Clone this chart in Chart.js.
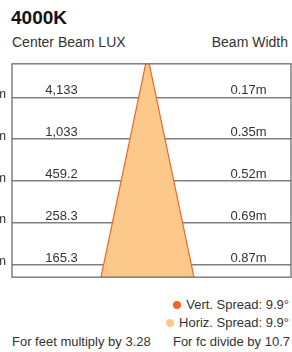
<!DOCTYPE html>
<html>
<head>
<meta charset="utf-8">
<script src="https://cdn.jsdelivr.net/npm/chart.js@4/dist/chart.umd.min.js"></script>
<style>
  html, body { margin: 0; padding: 0; background: #fff; }
  body { width: 292px; height: 352px; position: relative; overflow: hidden;
         font-family: 'Liberation Sans', Arial, sans-serif; color: #333; }
  .t { position: absolute; white-space: nowrap; }
  #title { left: 11px; top: 8px; font-size: 19px; line-height: 19px; font-weight: bold; color: #111; }
  #lux { left: 12px; top: 35px; font-size: 14px; line-height: 14px; }
  #bw { right: 4px; top: 35px; font-size: 14px; line-height: 14px; }
  #box { position: absolute; left: -30px; top: 50px; width: 322px; height: 241px; }
  #legend { position: absolute; right: 3px; top: 298px; font-size: 13px; line-height: 13px; text-align: right; }
  #legend div { height: 18px; }
  #legend i { display: inline-block; width: 8px; height: 8px; border-radius: 50%; margin-right: 5px; vertical-align: 0px; }
  #feet { left: 12px; top: 335px; font-size: 13px; line-height: 13px; }
  #fc { right: 2px; top: 335px; font-size: 13px; line-height: 13px; }
</style>
</head>
<body>
<div class="t" id="title">4000K</div>
<div class="t" id="lux">Center Beam LUX</div>
<div class="t" id="bw">Beam Width</div>
<div id="box"><canvas id="c"></canvas></div>
<div id="legend"></div>
<div class="t" id="feet">For feet multiply by 3.28</div>
<div class="t" id="fc">For fc divide by 10.7</div>
<script>
// distance rows (m)
var distances = [1, 2, 3, 4, 5];
var centerLux = [4133, 1033, 459.2, 258.3, 165.3];
var beamWidth = [0.17, 0.35, 0.52, 0.69, 0.87];

// beam outline: left corner, apex, right corner
var beamX = [-0.46, 0, 0.46];
var beamY = [5.3, 0, 5.3];

var spreadNames = ['Vert. Spread', 'Horiz. Spread'];
var spreadDeg = [9.9, 9.9];
var spreadColors = ['#f26522', '#fdc98a'];

var yMin = 0.2, yMax = 5.3, xMin = -1.34, xMax = 1.42;
var luxX = -0.85, widthX = 1.0;
var gridColor = 'rgba(95,95,95,0.8)';

Chart.defaults.font.family = "'Liberation Sans', Arial, sans-serif";
Chart.defaults.color = '#333';

var pts = beamX.map(function (x, i) { return { x: x, y: beamY[i] }; });

var rowLabels = {
  id: 'rowLabels',
  afterDraw: function (chart) {
    var ctx = chart.ctx, xs = chart.scales.x, ys = chart.scales.y;
    ctx.save();
    ctx.font = "13px 'Liberation Sans', Arial, sans-serif";
    ctx.fillStyle = '#333';
    ctx.textAlign = 'center';
    ctx.textBaseline = 'alphabetic';
    distances.forEach(function (d, i) {
      var y = ys.getPixelForValue(d) - 3;
      ctx.fillText(centerLux[i].toLocaleString('en-US'), xs.getPixelForValue(luxX), y);
      ctx.fillText(beamWidth[i].toFixed(2) + 'm', xs.getPixelForValue(widthX), y);
    });
    ctx.restore();
  }
};

var frame = {
  id: 'frame',
  afterDraw: function (chart) {
    var a = chart.chartArea, ctx = chart.ctx;
    ctx.save();
    ctx.strokeStyle = gridColor;
    ctx.lineWidth = 1.5;
    ctx.strokeRect(a.left, a.top, a.right - a.left, a.bottom - a.top);
    ctx.restore();
  }
};

var chart = new Chart(document.getElementById('c'), {
  type: 'line',
  data: {
    datasets: [{
      label: spreadNames[0],
      data: pts,
      borderColor: spreadColors[0],
      borderWidth: 1.2,
      fill: false,
      pointRadius: 0,
      tension: 0
    }, {
      label: spreadNames[1],
      data: pts,
      borderWidth: 0,
      borderColor: spreadColors[1],
      backgroundColor: spreadColors[1],
      fill: { value: yMax },
      pointRadius: 0,
      tension: 0
    }]
  },
  options: {
    responsive: true,
    maintainAspectRatio: false,
    animation: false,
    layout: { padding: { top: 9, right: 1, bottom: 1, left: 0 } },
    plugins: { legend: { display: false }, tooltip: { enabled: false } },
    scales: {
      x: {
        type: 'linear', min: xMin, max: xMax, z: 1,
        afterBuildTicks: function (s) { s.ticks = [{ value: 0 }]; },
        afterFit: function (s) { s.height = 0; },
        ticks: { display: false },
        grid: { color: gridColor, lineWidth: 1.5, drawTicks: false },
        border: { display: false }
      },
      y: {
        type: 'linear', reverse: true, min: yMin, max: yMax, z: 1,
        afterBuildTicks: function (s) { s.ticks = distances.map(function (v) { return { value: v }; }); },
        afterFit: function (s) { s.width = 42; },
        ticks: { padding: 6, labelOffset: -3, font: { size: 13 }, color: '#333',
                 callback: function (v) { return v + 'm'; } },
        grid: { color: gridColor, lineWidth: 1.5, drawTicks: false },
        border: { display: false }
      }
    }
  },
  plugins: [rowLabels, frame]
});

var legend = document.getElementById('legend');
spreadNames.forEach(function (n, i) {
  var row = document.createElement('div');
  row.innerHTML = '<i style="background:' + spreadColors[i] + '"></i>' + n + ': ' + spreadDeg[i] + '\u00b0';
  legend.appendChild(row);
});
</script>
</body>
</html>
